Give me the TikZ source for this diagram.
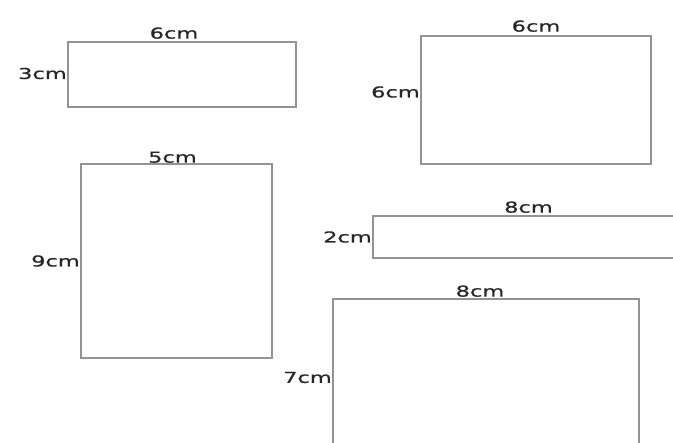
\documentclass[tikz,border=0pt]{standalone}
\usepackage{fontspec}
\newfontfamily\dimfont[FakeStretch=1.5,FakeBold=0.8]{DejaVu Sans}
\usetikzlibrary{positioning}
\tikzset{
  box/.style={draw=gray!85, line width=1.2pt, inner sep=0pt, outer sep=0pt},
  dim/.style={font=\dimfont\fontsize{15}{17}\selectfont, text=black!85, inner sep=1pt}
}
\begin{document}
\begin{tikzpicture}[x=1pt,y=-1pt]
      \useasboundingbox (0,0) rectangle (673,443);
      \clip (0,0) rectangle (673,443);
      \node[box, minimum width=228pt, minimum height=65pt] (r1) at (182,74.5) {};
      \node[box, minimum width=230pt, minimum height=128pt] (r2) at (536,100) {};
      \node[box, minimum width=191pt, minimum height=194pt] (r3) at (176.5,261) {};
      \node[box, minimum width=327pt, minimum height=42pt] (r4) at (536.5,237) {};
      \node[box, minimum width=306pt, minimum height=161pt] (r5) at (486,379.5) {};
      % widths
      \node[dim, above=2pt of r1, xshift=-8pt] (w1) {6cm};
      \node[dim, above=3pt of r2] (w2) {6cm};
      \node[dim, above=0pt of r3, xshift=-4pt] (w3) {5cm};
      \node[dim, above=2pt of r4, xshift=-8pt] (w4) {8cm};
      \node[dim, above=1pt of r5, xshift=-6pt] (w5) {8cm};
      % heights
      \node[dim, left=0pt of r1, yshift=1pt] (h1) {3cm};
      \node[dim, left=0pt of r2, yshift=8pt] (h2) {6cm};
      \node[dim, left=0pt of r3] (h3) {9cm};
      \node[dim, left=0pt of r4] (h4) {2cm};
      \node[dim, left=0pt of r5, yshift=2pt] (h5) {7cm};
    \end{tikzpicture}
\end{document}
